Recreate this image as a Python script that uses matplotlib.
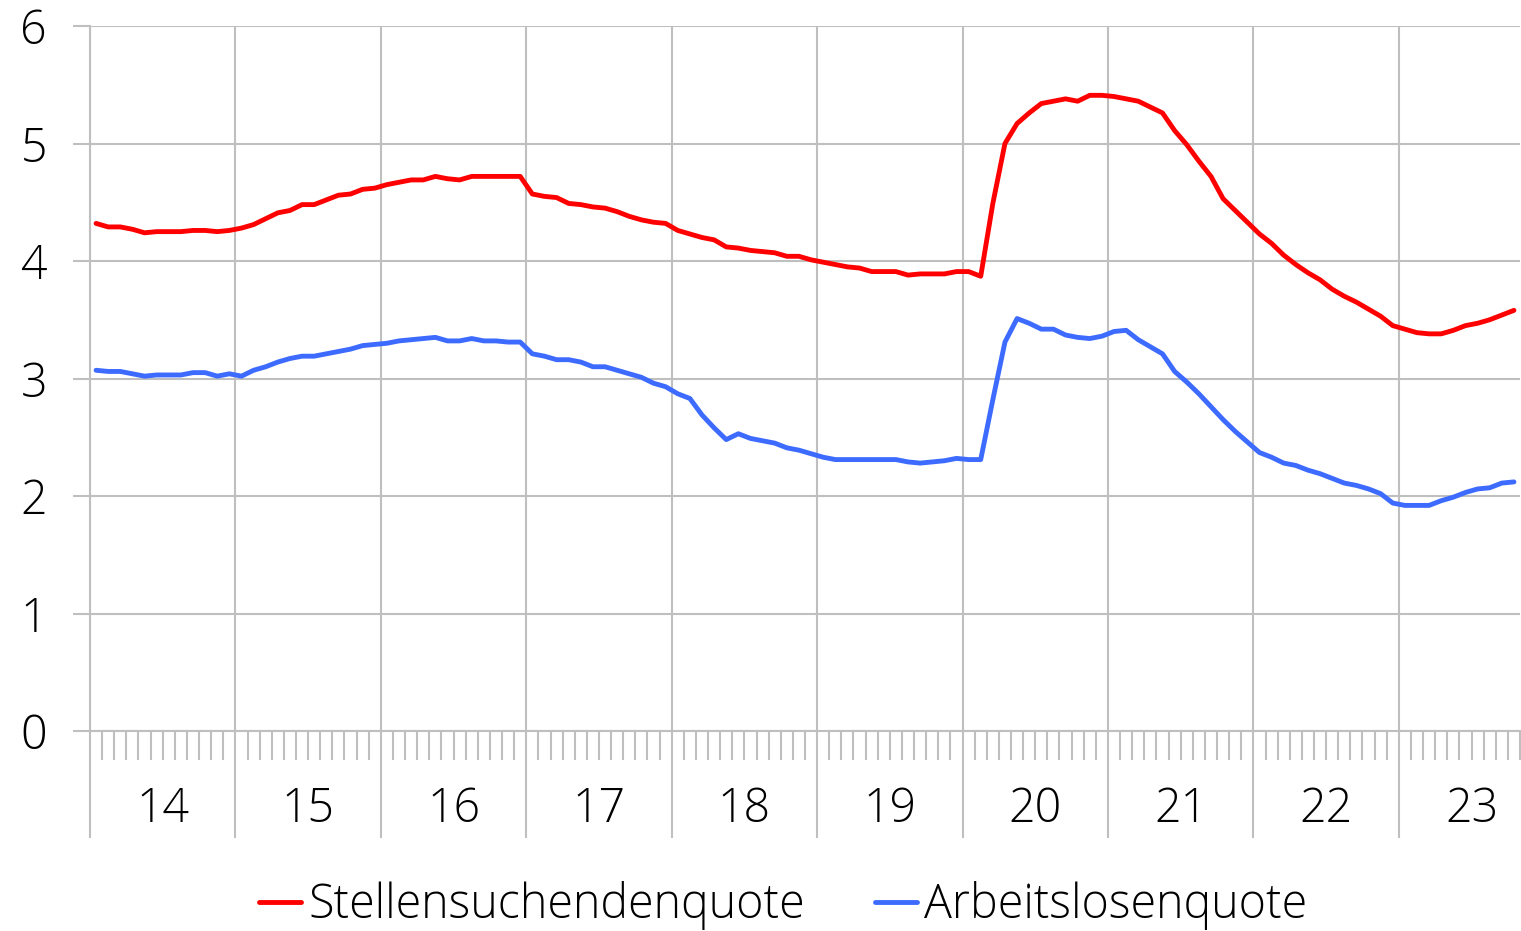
import matplotlib
matplotlib.use('Agg')
import matplotlib.pyplot as plt
import numpy as np

plt.rcParams['font.family'] = ['Open Sans', 'DejaVu Sans']
plt.rcParams['font.weight'] = 'light'

years = ['14', '15', '16', '17', '18', '19', '20', '21', '22', '23']

stellensuchendenquote = [
    4.32, 4.29, 4.29, 4.27, 4.24, 4.25, 4.25, 4.25, 4.26, 4.26, 4.25, 4.26,
    4.28, 4.31, 4.36, 4.41, 4.43, 4.48, 4.48, 4.52, 4.56, 4.57, 4.61, 4.62,
    4.65, 4.67, 4.69, 4.69, 4.72, 4.70, 4.69, 4.72, 4.72, 4.72, 4.72, 4.72,
    4.57, 4.55, 4.54, 4.49, 4.48, 4.46, 4.45, 4.42, 4.38, 4.35, 4.33, 4.32,
    4.26, 4.23, 4.20, 4.18, 4.12, 4.11, 4.09, 4.08, 4.07, 4.04, 4.04, 4.01,
    3.99, 3.97, 3.95, 3.94, 3.91, 3.91, 3.91, 3.88, 3.89, 3.89, 3.89, 3.91,
    3.91, 3.87, 4.49, 5.00, 5.17, 5.26, 5.34, 5.36, 5.38, 5.36, 5.41, 5.41,
    5.40, 5.38, 5.36, 5.31, 5.26, 5.11, 4.99, 4.85, 4.72, 4.53, 4.43, 4.33,
    4.23, 4.15, 4.05, 3.97, 3.90, 3.84, 3.76, 3.70, 3.65, 3.59, 3.53, 3.45,
    3.42, 3.39, 3.38, 3.38, 3.41, 3.45, 3.47, 3.50, 3.54, 3.58,
]

arbeitslosenquote = [
    3.07, 3.06, 3.06, 3.04, 3.02, 3.03, 3.03, 3.03, 3.05, 3.05, 3.02, 3.04,
    3.02, 3.07, 3.10, 3.14, 3.17, 3.19, 3.19, 3.21, 3.23, 3.25, 3.28, 3.29,
    3.30, 3.32, 3.33, 3.34, 3.35, 3.32, 3.32, 3.34, 3.32, 3.32, 3.31, 3.31,
    3.21, 3.19, 3.16, 3.16, 3.14, 3.10, 3.10, 3.07, 3.04, 3.01, 2.96, 2.93,
    2.87, 2.83, 2.69, 2.58, 2.48, 2.53, 2.49, 2.47, 2.45, 2.41, 2.39, 2.36,
    2.33, 2.31, 2.31, 2.31, 2.31, 2.31, 2.31, 2.29, 2.28, 2.29, 2.30, 2.32,
    2.31, 2.31, 2.82, 3.31, 3.51, 3.47, 3.42, 3.42, 3.37, 3.35, 3.34, 3.36,
    3.40, 3.41, 3.33, 3.27, 3.21, 3.06, 2.97, 2.87, 2.76, 2.65, 2.55, 2.46,
    2.37, 2.33, 2.28, 2.26, 2.22, 2.19, 2.15, 2.11, 2.09, 2.06, 2.02, 1.94,
    1.92, 1.92, 1.92, 1.96, 1.99, 2.03, 2.06, 2.07, 2.11, 2.12,
]

series_names = ['Stellensuchendenquote', 'Arbeitslosenquote']
series_colors = ['#FF0000', '#3D6BFF']

n = len(stellensuchendenquote)
x = np.arange(n)

W, H = 1521, 931
fig = plt.figure(figsize=(W / 100, H / 100), dpi=100)
ax = fig.add_axes([90 / W, 1 - 731 / H, 1430 / W, 705 / H])

grid_color = '#BFBFBF'
fs = 33.5

for vals, name, col in zip([stellensuchendenquote, arbeitslosenquote], series_names, series_colors):
    ax.plot(x, vals, color=col, lw=3.5, label=name, zorder=3,
            solid_joinstyle='round', solid_capstyle='round')

ax.set_xlim(-0.5, n - 0.5)
ax.set_ylim(0, 6)
ax.set_yticks(range(7))
ax.set_yticklabels([str(v) for v in range(7)])

# year boundaries as major ticks, months as minor ticks
boundaries = np.arange(0, n, 12) - 0.5
ax.set_xticks(boundaries)
ax.set_xticklabels([])
ax.set_xticks(np.arange(1, n + 1) - 0.5, minor=True)

ax.tick_params(axis='x', which='major', length=77, width=1.5, color=grid_color, direction='out')
ax.tick_params(axis='x', which='minor', length=21, width=1.5, color=grid_color, direction='out')
ax.tick_params(axis='y', which='major', length=12, width=1.5, color=grid_color,
               direction='out', labelsize=fs, pad=19)

ax.grid(True, which='major', color=grid_color, lw=1.5, zorder=0)
ax.set_axisbelow(True)

for s in ['top', 'right']:
    ax.spines[s].set_visible(False)
for s in ['left', 'bottom']:
    ax.spines[s].set_color(grid_color)
    ax.spines[s].set_linewidth(1.5)

for i, yr in enumerate(years):
    ax.annotate(yr, xy=(12 * i + 5.5, 0), xycoords=('data', 'axes fraction'),
                xytext=(0, -57), textcoords='offset points',
                ha='center', va='center', fontsize=fs, annotation_clip=False)

fig.legend(loc='center', bbox_to_anchor=(783 / W, 1 - 906 / H), ncol=2, frameon=False,
           handlelength=0.9, handletextpad=0.15, columnspacing=1.5, fontsize=fs)

fig.savefig('out.png', dpi=100, facecolor='white')
